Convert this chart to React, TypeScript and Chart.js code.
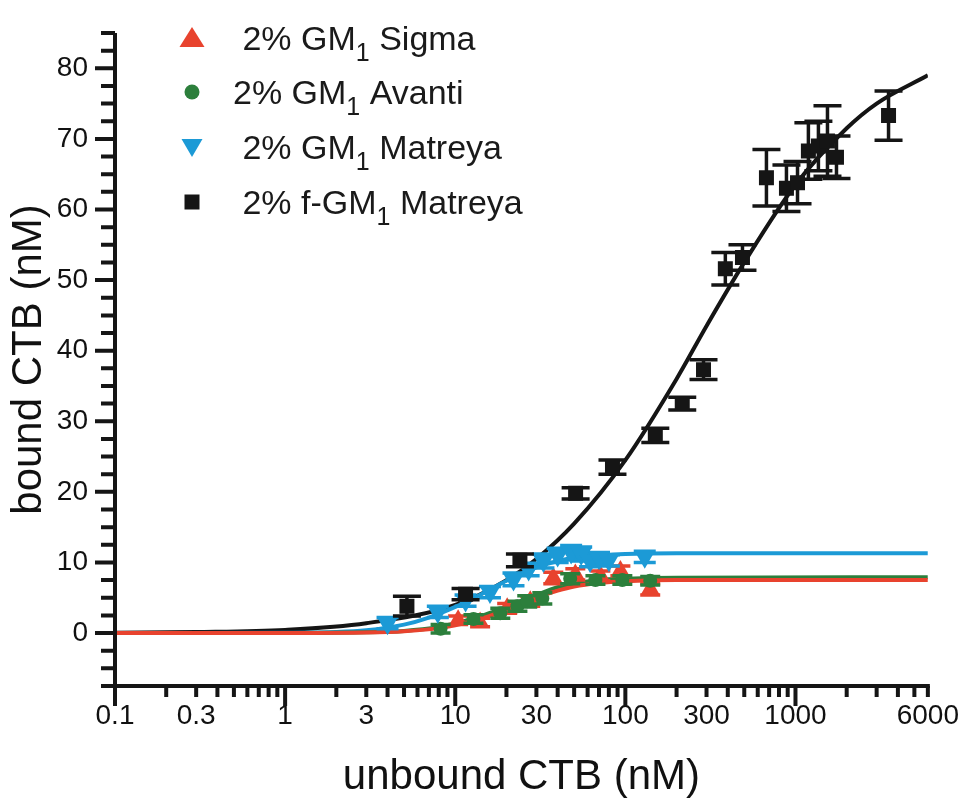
import React, { useEffect, useRef } from 'react';
import { Chart, registerables } from 'chart.js';

Chart.register(...registerables);

// ---------- axis ticks ----------
const xTickValues = [0.1, 0.3, 1, 3, 10, 30, 100, 300, 1000, 6000];
const xTickLabels = ['0.1', '0.3', '1', '3', '10', '30', '100', '300', '1000', '6000'];
const yTickValues = [0, 10, 20, 30, 40, 50, 60, 70, 80];
const xMin = 0.1;
const xMax = 6000;
const yMin = -7.5;
const yMax = 85;

// ---------- series names ----------
const seriesNames = ['Sigma', 'Avanti', 'Matreya', 'Matreya'];
const seriesPrefix = [' 2% GM', '2% GM', ' 2% GM', ' 2% f-GM'];

// ---------- 2% GM1 Sigma (red triangles) ----------
const sigmaX = [10.4, 14.0, 20.2, 27.6, 37.7, 50.8, 71.3, 93.5, 140];
const sigmaY = [1.8, 1.5, 3.5, 4.5, 7.8, 8.3, 8.1, 8.8, 6.2];
const sigmaErr = [0.6, 0.6, 0.7, 0.7, 0.8, 0.8, 0.7, 0.7, 0.8];
const sigmaFitX = [0.1, 1, 3, 5, 8, 10, 15, 20, 30, 40, 50, 70, 100, 200, 6000];
const sigmaFitY = [0, 0.02, 0.08, 0.25, 0.7, 1.1, 2.2, 3.3, 5.0, 6.0, 6.6, 7.1, 7.35, 7.5, 7.5];

// ---------- 2% GM1 Avanti (green circles) ----------
const avantiX = [8.2, 12.8, 18.4, 23.2, 26.5, 32.5, 47.4, 66.7, 96, 140];
const avantiY = [0.6, 2.0, 2.8, 3.8, 4.5, 4.9, 7.7, 7.5, 7.5, 7.4];
const avantiErr = [0.6, 0.6, 0.7, 0.7, 0.8, 0.8, 0.7, 0.6, 0.6, 0.6];
const avantiFitX = [0.1, 1, 3, 5, 8, 10, 15, 20, 30, 40, 50, 70, 100, 200, 6000];
const avantiFitY = [0, 0.02, 0.1, 0.3, 0.85, 1.35, 2.6, 3.7, 5.4, 6.5, 7.0, 7.5, 7.7, 7.85, 7.9];

// ---------- 2% GM1 Matreya (blue down-triangles) ----------
const matreyaX = [4.0, 7.9, 11.5, 16, 22, 27, 33, 40, 48, 55, 62, 70, 80, 130];
const matreyaY = [1.4, 3.0, 4.6, 5.8, 7.6, 9.0, 10.2, 11.0, 11.4, 11.2, 10.2, 10.6, 10.3, 10.8];
const matreyaErr = [0.8, 0.8, 0.8, 0.8, 0.9, 0.9, 1.0, 1.0, 1.0, 1.0, 0.8, 0.8, 0.8, 0.8];
const matreyaFitX = [0.1, 1, 2, 3, 5, 7, 10, 15, 20, 30, 40, 50, 70, 100, 200, 6000];
const matreyaFitY = [0, 0.05, 0.15, 0.4, 1.2, 2.2, 3.7, 5.8, 7.4, 9.3, 10.2, 10.7, 11.0, 11.2, 11.3, 11.3];

// ---------- 2% f-GM1 Matreya (black squares) ----------
const fgmX = [5.2, 11.5, 24, 51, 84, 150, 216, 288, 387, 488, 675, 885, 1028, 1191, 1364, 1542, 1742, 3524];
const fgmY = [3.8, 5.5, 10.3, 19.8, 23.5, 28.0, 32.5, 37.3, 51.6, 53.2, 64.5, 63.0, 63.8, 68.3, 69.0, 69.7, 67.4, 73.3];
const fgmErr = [1.4, 0.8, 0.9, 0.8, 1.0, 1.0, 0.9, 1.4, 2.3, 1.8, 4.0, 3.3, 3.0, 4.0, 3.5, 5.0, 3.0, 3.5];
const fgmFitX = [0.1, 0.3, 1, 3, 10, 20, 30, 50, 100, 200, 300, 500, 1000, 2000, 3000, 6000];
const fgmFitY = [0.05, 0.15, 0.45, 1.4, 4.0, 7.5, 10.5, 15.5, 24.5, 36, 43.5, 52.5, 63.5, 71.5, 75, 79];

// ---------- styles ----------
const RED = '#E8432E';
const GREEN = '#2C7F3C';
const BLUE = '#1C9AD6';
const BLACK = '#151515';
const FONT = '"Liberation Sans", Arial, Helvetica, sans-serif';

const toPts = (xs: number[], ys: number[]) => xs.map((x, i) => ({ x, y: ys[i] }));

const errorBarPlugin = {
  id: 'errorBars',
  beforeDatasetDraw(chart: any, args: any) {
    const ds = chart.data.datasets[args.index];
    if (!ds.errors) return;
    const meta = args.meta;
    const y = chart.scales.y;
    const { ctx, chartArea } = chart;
    ctx.save();
    ctx.beginPath();
    ctx.rect(chartArea.left, chartArea.top, chartArea.right - chartArea.left, chartArea.bottom - chartArea.top);
    ctx.clip();
    ctx.strokeStyle = ds.errColor;
    ctx.lineWidth = ds.errWidth;
    ctx.lineCap = 'butt';
    meta.data.forEach((el: any, i: number) => {
      const v = ds.data[i].y;
      const e = ds.errors[i];
      const px = el.x;
      const top = y.getPixelForValue(v + e);
      const bot = y.getPixelForValue(v - e);
      const h = ds.capHalf;
      ctx.beginPath();
      ctx.moveTo(px, top);
      ctx.lineTo(px, bot);
      ctx.moveTo(px - h, top);
      ctx.lineTo(px + h, top);
      ctx.moveTo(px - h, bot);
      ctx.lineTo(px + h, bot);
      ctx.stroke();
    });
    ctx.restore();
  },
};

const axesPlugin = {
  id: 'prismAxes',
  afterDraw(chart: any) {
    const { ctx, chartArea: a, scales } = chart;
    const x = scales.x;
    const y = scales.y;
    ctx.save();
    ctx.strokeStyle = BLACK;
    ctx.lineWidth = 4;
    ctx.lineCap = 'butt';
    ctx.beginPath();
    ctx.moveTo(a.left, a.top);
    ctx.lineTo(a.left, a.bottom + 2);
    ctx.moveTo(a.left - 2, a.bottom);
    ctx.lineTo(a.right + 2, a.bottom);
    ctx.stroke();
    ctx.beginPath();
    for (let v = yMin; v <= yMax + 0.001; v += 2.5) {
      const py = y.getPixelForValue(v);
      const major = Math.abs(v % 10) < 0.001;
      const len = major ? 20 : 14;
      ctx.moveTo(a.left - len, py);
      ctx.lineTo(a.left, py);
    }
    ctx.stroke();
    ctx.beginPath();
    const decades = [0.1, 1, 10, 100, 1000];
    decades.forEach((d) => {
      for (let k = 1; k <= 9; k++) {
        const v = k * d;
        if (v > xMax * 1.0001) break;
        const px = x.getPixelForValue(v);
        const len = k === 1 ? 20 : 11;
        ctx.moveTo(px, a.bottom);
        ctx.lineTo(px, a.bottom + len);
      }
    });
    ctx.stroke();
    ctx.restore();
  },
};

const legendPlugin = {
  id: 'prismLegend',
  afterDraw(chart: any) {
    const { ctx } = chart;
    const rows = [30, 84, 139, 194];
    const colors = [RED, GREEN, BLUE, BLACK];
    const mx = 184;
    const tx = 225;
    ctx.save();
    rows.forEach((ry, i) => {
      ctx.fillStyle = colors[i];
      ctx.beginPath();
      if (i === 0) {
        ctx.moveTo(mx, ry - 11);
        ctx.lineTo(mx + 12.5, ry + 9);
        ctx.lineTo(mx - 12.5, ry + 9);
        ctx.closePath();
      } else if (i === 1) {
        ctx.arc(mx, ry, 7.5, 0, Math.PI * 2);
      } else if (i === 2) {
        ctx.moveTo(mx - 10.5, ry - 8);
        ctx.lineTo(mx + 10.5, ry - 8);
        ctx.lineTo(mx, ry + 10);
        ctx.closePath();
      } else {
        ctx.rect(mx - 7.5, ry - 7.5, 15, 15);
      }
      ctx.fill();
      ctx.fillStyle = '#1a1a1a';
      ctx.textBaseline = 'alphabetic';
      ctx.textAlign = 'left';
      const base = ry + 12;
      ctx.font = `34px ${FONT}`;
      const pre = seriesPrefix[i];
      ctx.fillText(pre, tx, base);
      let cx = tx + ctx.measureText(pre).width;
      ctx.font = `25px ${FONT}`;
      ctx.fillText('1', cx, base + 11);
      cx += ctx.measureText('1').width;
      ctx.font = `34px ${FONT}`;
      ctx.fillText(' ' + seriesNames[i], cx, base);
    });
    ctx.restore();
  },
};

export default function App() {
  const ref = useRef<HTMLCanvasElement | null>(null);
  useEffect(() => {
    if (!ref.current) return;
    const lineDs = (label: string, xs: number[], ys: number[], color: string, order: number) => ({
      label,
      data: toPts(xs, ys),
      showLine: true,
      borderColor: color,
      backgroundColor: color,
      borderWidth: 4,
      pointRadius: 0,
      cubicInterpolationMode: 'monotone',
      order,
    });
    const ptDs = (
      label: string,
      xs: number[],
      ys: number[],
      errs: number[],
      color: string,
      style: string,
      radius: number,
      rotation: number,
      capHalf: number,
      order: number,
    ) => ({
      label,
      data: toPts(xs, ys),
      showLine: false,
      pointStyle: style,
      pointRadius: radius,
      pointRotation: rotation,
      pointBackgroundColor: color,
      pointBorderColor: color,
      pointBorderWidth: 0,
      backgroundColor: color,
      borderColor: color,
      errors: errs,
      errColor: color,
      errWidth: 3.5,
      capHalf,
      order,
    });

    const chart = new Chart(ref.current, {
      type: 'scatter',
      data: {
        datasets: [
          lineDs('fit f-GM1 Matreya', fgmFitX, fgmFitY, BLACK, 10),
          lineDs('fit GM1 Matreya', matreyaFitX, matreyaFitY, BLUE, 9),
          lineDs('fit GM1 Avanti', avantiFitX, avantiFitY, GREEN, 8),
          lineDs('fit GM1 Sigma', sigmaFitX, sigmaFitY, RED, 7),
          ptDs('2% GM1 Sigma', sigmaX, sigmaY, sigmaErr, RED, 'triangle', 11, 0, 10, 6),
          ptDs('2% GM1 Avanti', avantiX, avantiY, avantiErr, GREEN, 'circle', 7, 0, 10, 5),
          ptDs('2% GM1 Matreya', matreyaX, matreyaY, matreyaErr, BLUE, 'triangle', 12, 180, 11, 4),
          ptDs('2% f-GM1 Matreya', fgmX, fgmY, fgmErr, BLACK, 'rect', 10.6, 0, 14, 3),
        ] as any,
      },
      options: {
        responsive: false,
        animation: false,
        layout: { padding: { top: 25, right: 44, left: 0, bottom: 0 } },
        plugins: {
          legend: { display: false },
          tooltip: { enabled: false },
        },
        scales: {
          x: {
            type: 'logarithmic',
            min: xMin,
            max: xMax,
            afterBuildTicks: (scale: any) => {
              scale.ticks = xTickValues.map((v) => ({ value: v }));
            },
            afterFit: (scale: any) => {
              scale.height = 112;
            },
            grid: { display: false, drawTicks: false },
            border: { display: false },
            ticks: {
              autoSkip: false,
              maxRotation: 0,
              minRotation: 0,
              padding: 13,
              color: '#111',
              font: { family: FONT, size: 28 },
              callback: (_v: any, i: number) => xTickLabels[i],
            },
            title: {
              display: true,
              text: 'unbound CTB (nM)',
              color: '#111',
              font: { family: FONT, size: 42, lineHeight: 1 },
              padding: { top: 0, bottom: 0 },
            },
          },
          y: {
            type: 'linear',
            min: yMin,
            max: yMax,
            afterBuildTicks: (scale: any) => {
              scale.ticks = yTickValues.map((v) => ({ value: v }));
            },
            afterFit: (scale: any) => {
              scale.width = 107;
              scale.paddingTop = 0;
              scale.paddingBottom = 0;
            },
            grid: { display: false, drawTicks: false },
            border: { display: false },
            ticks: {
              autoSkip: false,
              padding: 27,
              color: '#111',
              font: { family: FONT, size: 28 },
              callback: (v: any) => String(v),
            },
            title: {
              display: true,
              text: 'bound CTB (nM)',
              color: '#111',
              font: { family: FONT, size: 42, lineHeight: 1 },
              padding: { top: 0, bottom: 0 },
            },
          },
        },
      } as any,
      plugins: [errorBarPlugin, axesPlugin, legendPlugin],
    });
    return () => chart.destroy();
  }, []);

  return (
    <div style={{ width: 964, height: 790 }}>
      <canvas ref={ref} width={964} height={790} style={{ display: 'block' }} />
    </div>
  );
}
